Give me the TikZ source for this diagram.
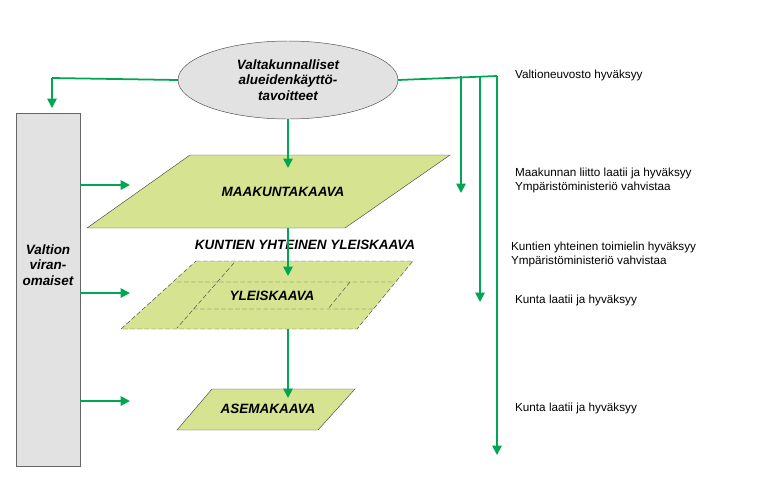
\documentclass[tikz,border=0pt]{standalone}
\usepackage{fontspec}
\setmainfont{Liberation Sans}
\usetikzlibrary{shapes.geometric,arrows.meta}
\definecolor{kgreen}{RGB}{0,166,81}
\definecolor{kfill}{RGB}{214,227,144}
\definecolor{kgray}{RGB}{226,226,226}
\begin{document}
\begin{tikzpicture}[x=0.03cm,y=-0.03cm,
  flow/.style={kgreen,line width=1.5pt,-{Triangle[length=8pt,width=8pt]}},
  plan/.style={draw=black!70,fill=kfill},
  lbl/.style={font=\fontsize{11.5}{13}\selectfont\bfseries\itshape},
  note/.style={font=\fontsize{10}{12}\selectfont,anchor=west,align=left}]
\useasboundingbox (0,0) rectangle (778,490);

% ylin taso
\node[ellipse,draw=black!70,fill=kgray,minimum width=220*0.03cm,minimum height=78*0.03cm,
  lbl,align=center] (vat) at (288,80) {Valtakunnalliset\\alueidenkäyttö-\\tavoitteet};
\draw[draw=black!60,fill=kgray] (16,113) rectangle (80,466);
\node[lbl,align=center] (vir) at (48,265) {Valtion\\viran-\\omaiset};

% kaavatasot
\draw[plan] (190,155) -- (450,155) -- (345,228) -- (87,228) -- cycle;
\node[lbl] (mkk) at (283,192) {MAAKUNTAKAAVA};
\node[lbl] (kyk) at (305,245) {KUNTIEN YHTEINEN YLEISKAAVA};
\draw[plan,dash pattern=on 4pt off 2pt] (196,261) -- (413,261) -- (357,329) -- (121,329) -- cycle;
\draw[black!70,dash pattern=on 4pt off 2pt] (177,282) -- (395,282) (193,309) -- (375,309)
  (234,263) -- (177,328) (350,282) -- (328,309);
\node[lbl] (ylk) at (272,296) {YLEISKAAVA};
\draw[plan] (212,389) -- (355,389) -- (318,430) -- (177,430) -- cycle;
\node[lbl] (ask) at (268,409) {ASEMAKAAVA};

% nuolet
\draw[flow] (vat.south) -- (288,168);
\draw[flow] (288,228) -- (288,276);
\draw[flow] (288,329) -- (288,398);
\draw[kgreen,line width=1.5pt] (vat.west) -- (52,78) coordinate (vl);
\draw[flow] (vl) -- (52,108);
\draw[kgreen,line width=1.5pt] (vat.east) -- (497,76);
\foreach \x/\y in {461/193,480/302,497/455}
  \draw[flow] (\x,76) -- (\x,\y);
\foreach \y in {185,293,401}
  \draw[flow] (80,\y) -- (130,\y);

% selitteet
\node[note] (n1) at (511,75) {Valtioneuvosto hyväksyy};
\node[note] (n2) at (511,180) {Maakunnan liitto laatii ja hyväksyy\\Ympäristöministeriö vahvistaa};
\node[note] (n3) at (507,254) {Kuntien yhteinen toimielin hyväksyy\\Ympäristöministeriö vahvistaa};
\node[note] (n4) at (511,300) {Kunta laatii ja hyväksyy};
\node[note] (n5) at (511,408) {Kunta laatii ja hyväksyy};
\end{tikzpicture}
\end{document}
